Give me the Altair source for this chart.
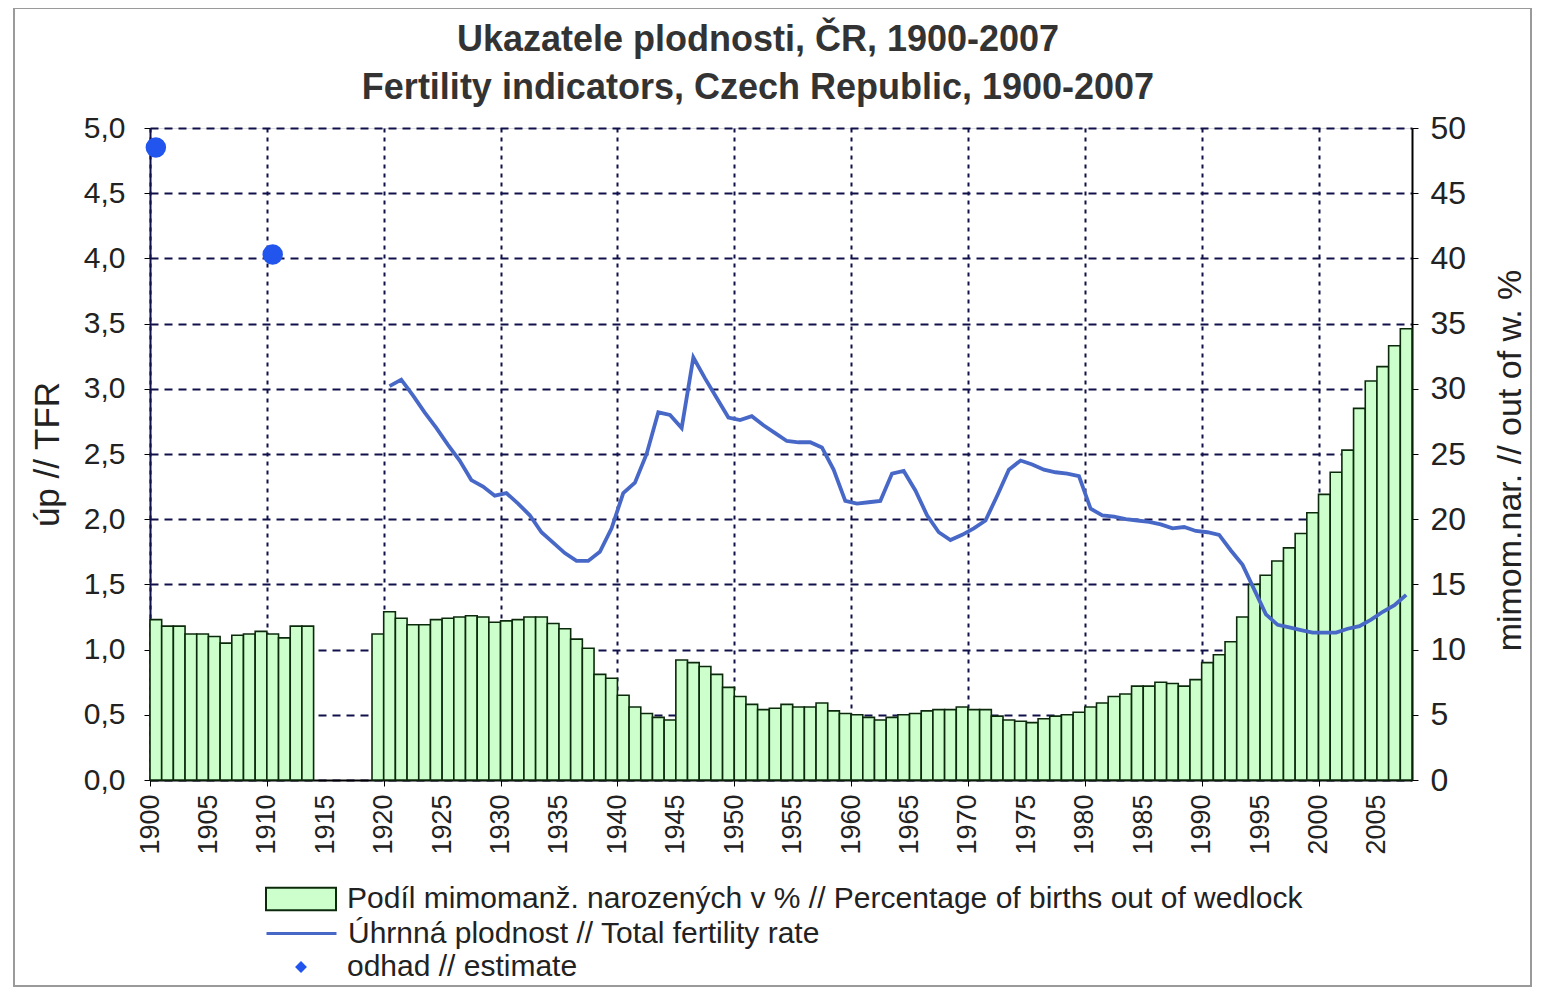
import altair as alt
import pandas as pd

# ---------------- data ----------------
bar_years = list(range(1900, 1914)) + list(range(1919, 2008))
pct_out_of_wedlock = [
    12.3, 11.8, 11.8, 11.2, 11.2, 11.0, 10.5, 11.1, 11.2, 11.4, 11.2, 10.9, 11.8, 11.8,          # 1900-1913
    11.2, 12.9, 12.4, 11.9, 11.9, 12.3, 12.4, 12.5, 12.6, 12.5, 12.1, 12.2, 12.3, 12.5, 12.5,    # 1919-1933
    12.0, 11.6, 10.8, 10.1, 8.1, 7.8, 6.5, 5.6, 5.1, 4.8, 4.6,                                    # 1934-1944
    9.2, 9.0, 8.7, 8.1, 7.1, 6.4, 5.8, 5.4, 5.5, 5.8, 5.6, 5.6, 5.9, 5.3, 5.1,                   # 1945-1959
    5.0, 4.8, 4.6, 4.8, 5.0, 5.1, 5.3, 5.4, 5.4, 5.6, 5.4, 5.4, 4.9, 4.6, 4.5,                   # 1960-1974
    4.4, 4.7, 4.9, 5.0, 5.2, 5.6, 5.9, 6.4, 6.6, 7.2, 7.2, 7.5, 7.4, 7.2, 7.7,                   # 1975-1989
    9.0, 9.6, 10.6, 12.5, 15.0, 15.7, 16.8, 17.8, 18.9, 20.5, 21.9, 23.6, 25.3, 28.5, 30.6,      # 1990-2004
    31.7, 33.3, 34.6,                                                                            # 2005-2007
]

tfr_years = list(range(1920, 2008))
tfr_values = [
    3.02, 3.07, 2.95, 2.82, 2.70, 2.57, 2.45, 2.30, 2.25, 2.18,   # 1920-1929
    2.20, 2.12, 2.03, 1.90, 1.82, 1.74, 1.68, 1.68, 1.75, 1.93,   # 1930-1939
    2.20, 2.28, 2.50, 2.82, 2.80, 2.70, 3.24, 3.08, 2.93, 2.78,   # 1940-1949
    2.76, 2.79, 2.72, 2.66, 2.60, 2.59, 2.59, 2.55, 2.38, 2.14,   # 1950-1959
    2.12, 2.13, 2.14, 2.35, 2.37, 2.22, 2.03, 1.90, 1.84, 1.88,   # 1960-1969
    1.93, 1.99, 2.18, 2.38, 2.45, 2.42, 2.38, 2.36, 2.35, 2.33,   # 1970-1979
    2.08, 2.03, 2.02, 2.00, 1.99, 1.98, 1.96, 1.93, 1.94, 1.91,   # 1980-1989
    1.90, 1.88, 1.76, 1.65, 1.46, 1.27, 1.19, 1.17, 1.15, 1.13,   # 1990-1999
    1.13, 1.13, 1.16, 1.18, 1.23, 1.29, 1.34, 1.42,               # 2000-2007
]

est_years = [1900, 1910]
est_values = [4.85, 4.03]

x_label_years = list(range(1900, 2006, 5))
left_ticks = [0, 0.5, 1.0, 1.5, 2.0, 2.5, 3.0, 3.5, 4.0, 4.5, 5.0]
right_ticks = list(range(0, 51, 5))

title_line1 = "Ukazatele plodnosti, ČR, 1900-2007"
title_line2 = "Fertility indicators, Czech Republic, 1900-2007"
lab_bar = "Podíl mimomanž. narozených v % // Percentage of births out of wedlock"
lab_line = "Úhrnná plodnost // Total fertility rate"
lab_est = "odhad // estimate"
left_title = "úp // TFR"
right_title = "mimom.nar. // out of w. %"

# ---------------- tables ----------------
bars_df = pd.DataFrame({"x0": bar_years, "pct": pct_out_of_wedlock})
bars_df["x1"] = bars_df["x0"] + 1
bars_df["s"] = lab_bar

line_df = pd.DataFrame({"yr": tfr_years, "tfr": tfr_values})
line_df["xm"] = line_df["yr"] + 0.5
line_df["s"] = lab_line

est_df = pd.DataFrame({"yr": est_years, "tfr": est_values})
est_df["xm"] = est_df["yr"] + 0.5
est_df["s"] = lab_est

FONT = "Liberation Sans"
TXT = "#222222"
W, H = 1262, 652

xscale = alt.Scale(domain=[1900, 2008], nice=False, zero=False)
decade = {"condition": {"test": "datum.value % 10 === 0", "value": 1}, "value": 0}
xaxis = alt.Axis(values=x_label_years, format="d", labelAngle=270, labelFontSize=27,
                 labelFont=FONT, labelColor=TXT, labelPadding=8, tickSize=6,
                 tickColor="#000000", tickOpacity=decade, domainColor="#000000",
                 domainWidth=2, grid=True, gridColor="#10104a", gridWidth=2,
                 gridDash=[4, 5], gridOpacity=decade, labelOverlap=False)

leg_common = dict(title=None, orient="none", labelFont=FONT, labelFontSize=30,
                  labelColor=TXT, labelOffset=10, symbolSize=4900, padding=0,
                  labelLimit=1300)

bars = alt.Chart(bars_df).mark_rect(stroke="#0b2a0b", strokeWidth=1.6).encode(
    x=alt.X("x0:Q", scale=xscale, axis=xaxis, title=None),
    x2="x1:Q",
    y=alt.Y("pct:Q", scale=alt.Scale(domain=[0, 50], nice=False),
            axis=alt.Axis(orient="right", values=right_ticks, format="d",
                          labelFont=FONT, labelFontSize=32, labelColor=TXT,
                          labelPadding=12, tickSize=6, tickColor="#000000",
                          domainColor="#000000", domainWidth=2, grid=False,
                          title=right_title, titleFont=FONT, titleFontSize=34,
                          titleFontWeight="normal", titleColor=TXT, titleAngle=270,
                          titleX=98, titleY=332, titleAlign="center",
                          titleBaseline="middle")),
    y2=alt.datum(0),
    fill=alt.Fill("s:N", scale=alt.Scale(domain=[lab_bar], range=["#CCFFCC"]),
                  legend=alt.Legend(legendX=115, legendY=735,
                                    symbolType="M-1,-0.32H1V0.32H-1Z",
                                    symbolStrokeColor="#0b2a0b", symbolStrokeWidth=2,
                                    **leg_common)),
)

line = alt.Chart(line_df).mark_line(strokeWidth=3.8).encode(
    x=alt.X("xm:Q", scale=xscale, axis=xaxis, title=None),
    y=alt.Y("tfr:Q", scale=alt.Scale(domain=[0, 5], nice=False),
            axis=alt.Axis(orient="left", values=left_ticks,
                          labelExpr="replace(format(datum.value, '.1f'), '.', ',')",
                          labelFont=FONT, labelFontSize=30, labelColor=TXT,
                          labelPadding=19, tickSize=6, tickColor="#000000",
                          domainColor="#10104a", domainWidth=2, grid=True,
                          gridColor="#10104a", gridWidth=2.2, gridDash=[8, 6],
                          title=left_title, titleFont=FONT, titleFontSize=35,
                          titleFontWeight="normal", titleColor=TXT, titlePadding=18)),
    stroke=alt.Stroke("s:N", scale=alt.Scale(domain=[lab_line], range=["#4868C8"]),
                      legend=alt.Legend(legendX=115, legendY=769, symbolType="stroke",
                                        symbolStrokeWidth=3, **leg_common)),
)

points = alt.Chart(est_df).mark_point(shape="circle", filled=True, size=420, opacity=1).encode(
    x=alt.X("xm:Q", scale=xscale, axis=xaxis, title=None),
    y=alt.Y("tfr:Q", scale=alt.Scale(domain=[0, 5], nice=False), axis=None),
    color=alt.Color("s:N", scale=alt.Scale(domain=[lab_est], range=["#2255EE"]),
                    legend=alt.Legend(legendX=115, legendY=803,
                                      symbolType="M0,-0.17L0.17,0L0,0.17L-0.17,0Z",
                                      symbolOpacity=1, **leg_common)),
)

frame = alt.Chart(pd.DataFrame({"k": [0]})).mark_rect(
    filled=False, color="#9a9a9a", strokeWidth=2
).encode(x=alt.value(-136), x2=alt.value(1381), y=alt.value(-120), y2=alt.value(858))

title_style = dict(font=FONT, fontSize=36, fontWeight="bold", color="#333333",
                   align="center", baseline="middle")
t1 = alt.Chart(pd.DataFrame({"t": [title_line1]})).mark_text(**title_style).encode(
    text="t:N", x=alt.value(608), y=alt.value(-88))
t2 = alt.Chart(pd.DataFrame({"t": [title_line2]})).mark_text(**title_style).encode(
    text="t:N", x=alt.value(608), y=alt.value(-40))

chart = alt.layer(bars, line, points, frame, t1, t2).resolve_scale(
    y="independent", fill="independent", stroke="independent", color="independent"
).properties(
    width=W, height=H,
    autosize=alt.AutoSizeParams(type="none"),
    padding={"left": 142, "top": 120, "right": 121, "bottom": 208},
).configure_view(fill="#CCCCFF", stroke="#9a9a9a", strokeWidth=1).configure(
    background="white"
)

chart.save("out.html", embed_options={"renderer": "svg", "actions": False})
